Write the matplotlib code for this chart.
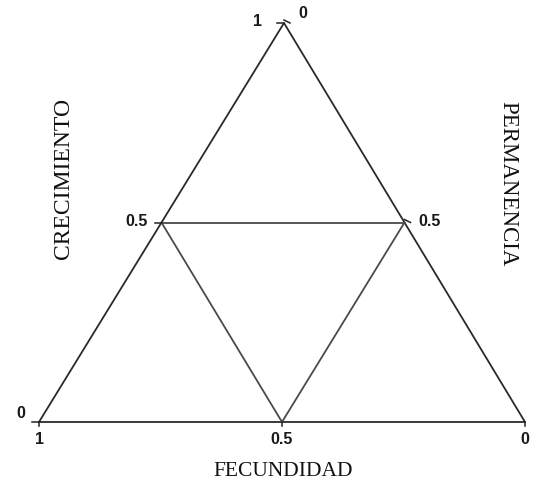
import matplotlib

matplotlib.use("Agg")
import matplotlib.pyplot as plt

# ternary axes: fecundidad (bottom), crecimiento (left), permanencia (right)
axis_names = ["FECUNDIDAD", "CRECIMIENTO", "PERMANENCIA"]
tick_values = [0.0, 0.5, 1.0]
tick_labels = ["0", "0.5", "1"]
grid_levels = [0.5]

# vertex positions in pixel space (layout only)
V_FEC = (39.0, 422.0)   # fecundidad = 1
V_CRE = (284.0, 23.0)   # crecimiento = 1
V_PER = (525.0, 422.0)  # permanencia = 1


def to_xy(f, c, p):
    s = f + c + p
    f, c, p = f / s, c / s, p / s
    x = f * V_FEC[0] + c * V_CRE[0] + p * V_PER[0]
    y = f * V_FEC[1] + c * V_CRE[1] + p * V_PER[1]
    return x, y


fig = plt.figure(figsize=(5.41, 4.88), dpi=100)
ax = fig.add_axes([0, 0, 1, 1])
ax.set_xlim(0, 541)
ax.set_ylim(488, 0)
ax.axis("off")

line_kw = dict(color="#2a2a2a", linewidth=1.3, solid_capstyle="round")
grid_kw = dict(color="#4a4a4a", linewidth=1.3)

# outer triangle
corners = [to_xy(1, 0, 0), to_xy(0, 1, 0), to_xy(0, 0, 1), to_xy(1, 0, 0)]
ax.plot([q[0] for q in corners], [q[1] for q in corners], **line_kw)

# grid lines at each level for each component
for g in grid_levels:
    r = 1.0 - g
    # crecimiento = g
    a, b = to_xy(r, g, 0), to_xy(0, g, r)
    ax.plot([a[0], b[0]], [a[1], b[1]], **grid_kw)
    # fecundidad = g
    a, b = to_xy(g, r, 0), to_xy(g, 0, r)
    ax.plot([a[0], b[0]], [a[1], b[1]], **grid_kw)
    # permanencia = g
    a, b = to_xy(r, 0, g), to_xy(0, r, g)
    ax.plot([a[0], b[0]], [a[1], b[1]], **grid_kw)

num_font = dict(family=["Liberation Sans", "DejaVu Sans"], fontsize=11.5,
                fontweight="bold", color="#1a1a1a")

# crecimiento ticks along left edge (0 at bottom-left, 1 at top)
for v, lab in zip(tick_values, tick_labels):
    x, y = to_xy(1 - v, v, 0)
    ax.plot([x - 7, x], [y, y], color="#222222", linewidth=1.1)
    if v < 1:
        ax.text(x - 14, y - 9 if v == 0 else y - 1, lab, ha="right", va="center", **num_font)
    else:
        ax.text(x - 27, y - 1, lab, ha="center", va="center", **num_font)

# permanencia ticks along right edge (0 at top)
for v, lab in zip(tick_values[:2], tick_labels[:2]):
    x, y = to_xy(0, 1 - v, v)
    ax.plot([x, x + 6], [y - 3, y], color="#222222", linewidth=1.1)
    ax.text(x + 14, y - 10 if v == 0 else y - 1, lab, ha="left", va="center", **num_font)

# fecundidad ticks along bottom edge (1 at left, 0 at right)
for v, lab in zip(tick_values, tick_labels):
    x, y = to_xy(v, 0, 1 - v)
    ax.plot([x, x], [y, y + 4], color="#222222", linewidth=1.1)
    ax.text(x, y + 18, lab, ha="center", va="center", **num_font)

name_font = dict(family=["Liberation Serif", "DejaVu Serif"], color="#111111")
ax.text(283, 472, axis_names[0], ha="center", va="center", fontsize=15.5, **name_font)
ax.text(63, 178, axis_names[1], ha="center", va="center", rotation=90,
        fontsize=17, **name_font)
ax.text(508, 184, axis_names[2], ha="center", va="center", rotation=-90,
        fontsize=16.5, **name_font)

fig.savefig("out.png", dpi=100, facecolor="white")
plt.close(fig)
